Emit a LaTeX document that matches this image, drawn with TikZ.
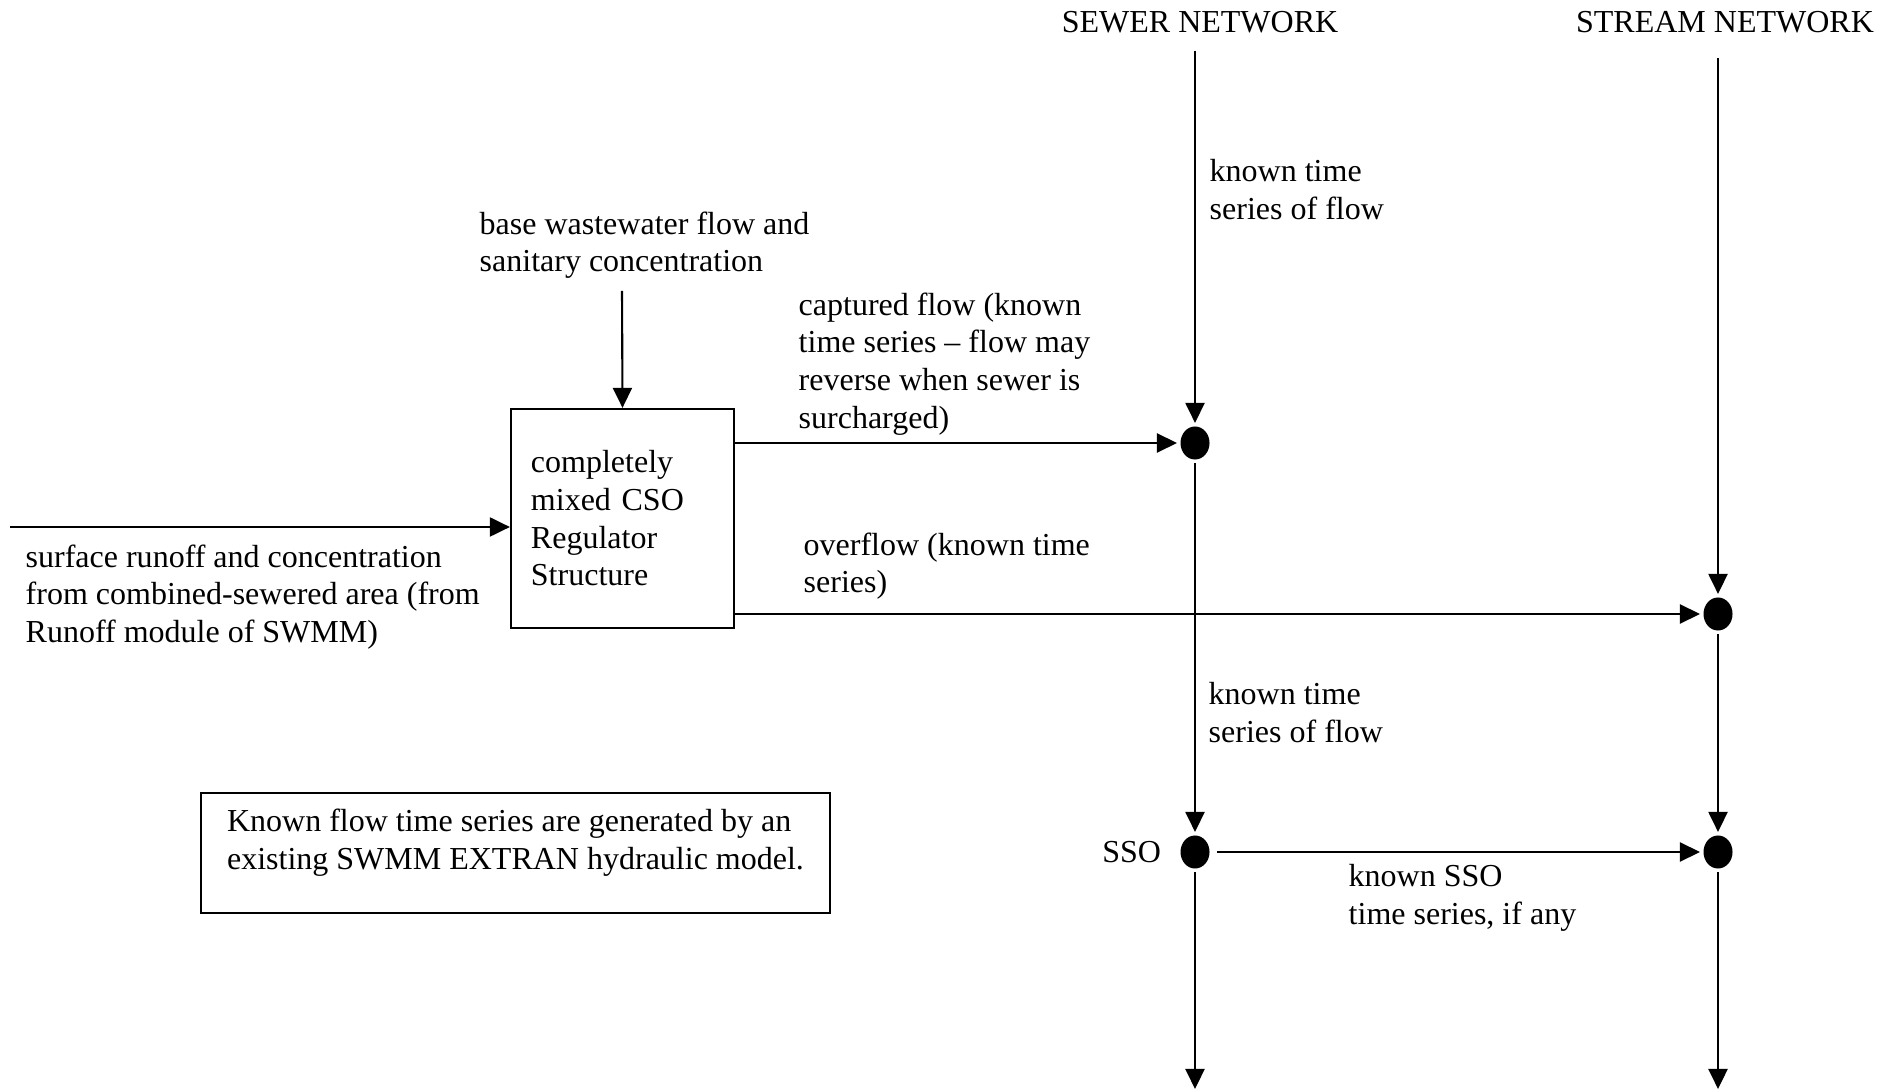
\documentclass[tikz,border=0pt]{standalone}
\usepackage{fontspec}
\setmainfont{Liberation Serif}
\usetikzlibrary{shapes.geometric,arrows.meta,positioning,calc}

\tikzset{
  flow/.style={-{Triangle[length=0.2cm,width=0.19cm]},line width=0.6pt},
  junction/.style={ellipse,fill=black,minimum width=0.29cm,minimum height=0.33cm,inner sep=0pt},
  lbl/.style={anchor=north west,align=left,inner sep=0pt,font=\fontsize{9.1}{10.7}\selectfont},
}

\begin{document}
\begin{tikzpicture}[x=0.01cm,y=-0.01cm]
\useasboundingbox (0,0) rectangle (1898,1092);

% network headings
\node[font=\fontsize{9.1}{10.7}\selectfont,inner sep=0pt] (sewhead) at (1200,22) {SEWER NETWORK};
\node[font=\fontsize{9.1}{10.7}\selectfont,inner sep=0pt] (strhead) at (1725,22) {STREAM NETWORK};

% regulator box
\node[draw,line width=0.6pt,align=left,text width=1.83cm,inner xsep=0.2cm,minimum height=2.19cm,
  font=\fontsize{9.1}{10.7}\selectfont] (cso) at (622.5,518.5)
  {completely\\mixed CSO\\Regulator\\Structure};

% junctions on the two networks
\node[junction] (sew1) at (1195,443) {};
\node[junction] (sso) at (1195,852) {};
\node[junction] (str1) at (1718,614) {};
\node[junction] (str2) at (1718,852) {};

\coordinate (runin) at (10,527);
\coordinate (basein) at (622,291);
\coordinate (sewtop) at (1195,51);
\coordinate (strtop) at (1718,58);
\coordinate (sewend) at (1195,1089);
\coordinate (strend) at (1718,1089);

% inflows to the regulator
\draw[flow] (runin) -- (runin -| cso.west);
\draw[flow] (basein) -- (cso.north);
% outflows
\draw[flow,shorten >=0.8pt] (cso.east |- sew1) -- (sew1);
\draw[flow,shorten >=0.8pt] (cso.east |- str1) -- (str1);
% sewer line
\draw[flow,shorten >=0.8pt] (sewtop) -- (sew1);
\draw[flow,shorten <=0.8pt,shorten >=0.8pt] (sew1) -- (sso);
\draw[flow,shorten <=0.8pt] (sso) -- (sewend);
% stream line
\draw[flow,shorten >=0.8pt] (strtop) -- (str1);
\draw[flow,shorten <=0.8pt,shorten >=0.8pt] (str1) -- (str2);
\draw[flow,shorten <=0.8pt] (str2) -- (strend);
\draw[flow,shorten <=2pt,shorten >=0.8pt] (sso) -- (str2);

% labels
\node[lbl] (baselbl) at (479,211) {base wastewater flow and\\sanitary concentration};
\node[lbl] (runlbl) at (25,544) {surface runoff and concentration\\from combined-sewered area (from\\Runoff module of SWMM)};
\node[lbl] (caplbl) at (798,292) {captured flow (known\\time series -- flow may\\reverse when sewer is\\surcharged)};
\node[lbl] (ovflbl) at (803,532) {overflow (known time\\series)};
\node[lbl] (sewlbl1) at (1209,159) {known time\\series of flow};
\node[lbl] (sewlbl2) at (1208,682) {known time\\series of flow};
\node[inner sep=0pt,font=\fontsize{9.1}{10.7}\selectfont,left=0.18cm of sso] (ssolbl) {SSO};
\node[lbl] (ssoflow) at (1348,864) {known SSO\\time series, if any};

% note box, text sits a little high
\node[draw,line width=0.6pt,align=left,minimum width=6.29cm,minimum height=1.2cm,text depth=0.27cm,
  font=\fontsize{9.1}{10.7}\selectfont] (note) at (515.5,853)
  {Known flow time series are generated by an\\existing SWMM EXTRAN hydraulic model.};
\end{tikzpicture}
\end{document}
